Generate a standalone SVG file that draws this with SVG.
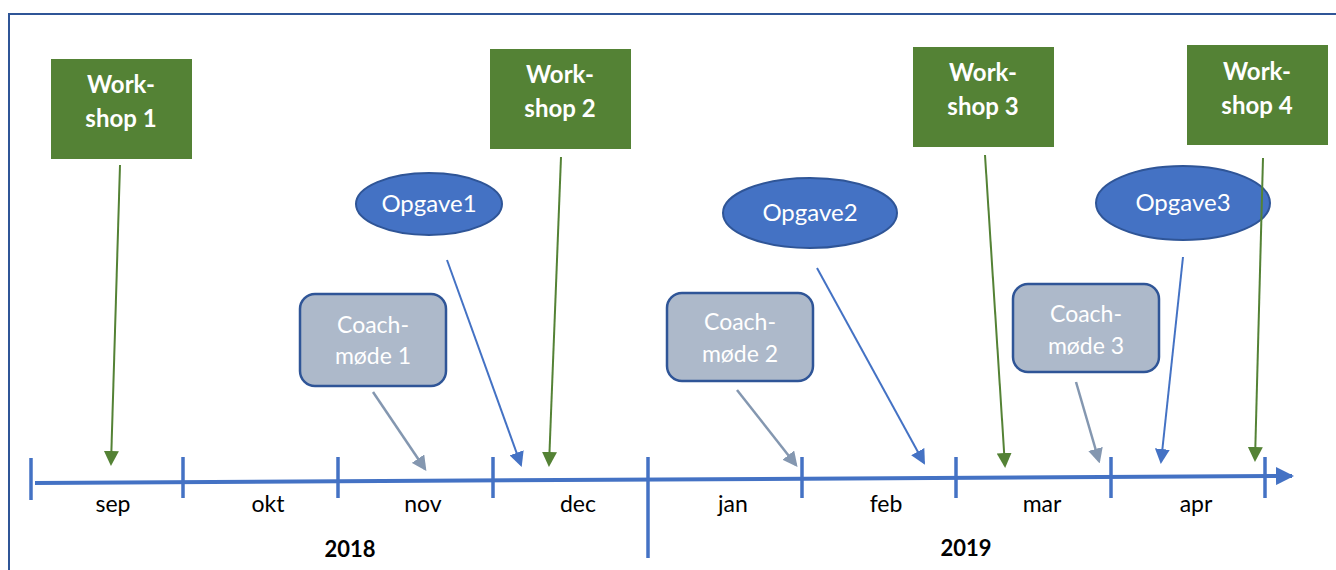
<svg xmlns="http://www.w3.org/2000/svg" width="1336" height="570" viewBox="0 0 1336 570">
<style>
.ws{fill:#548235}
.wt{font-family:Lato,"Liberation Sans",sans-serif;font-weight:bold;font-size:24px;fill:#fff;text-anchor:middle}
.op{fill:#4472C4;stroke:#2F5597;stroke-width:2}
.ot{font-family:Lato,"Liberation Sans",sans-serif;font-size:24px;fill:#fff;text-anchor:middle}
.co{fill:#ADB9CA;stroke:#2F5597;stroke-width:2.5}
.ct{font-family:Lato,"Liberation Sans",sans-serif;font-size:23px;fill:#fff;text-anchor:middle}
.mt{font-family:Lato,"Liberation Sans",sans-serif;font-size:23px;fill:#000;text-anchor:middle}
.yt{font-family:Lato,"Liberation Sans",sans-serif;font-size:22px;font-weight:bold;fill:#000;text-anchor:middle}
.g{stroke:#548235;stroke-width:2;fill:none}
.b{stroke:#4472C4;stroke-width:2;fill:none}
.c{stroke:#8497B0;stroke-width:2.5;fill:none}
.tick{stroke:#4472C4;stroke-width:3.5}
</style>
<defs>
<marker id="ag" markerWidth="7.5" markerHeight="7.5" refX="6.5" refY="3.75" orient="auto" markerUnits="strokeWidth"><path d="M0,0 L7.5,3.75 L0,7.5 Z" fill="#548235"/></marker>
<marker id="ab" markerWidth="7.5" markerHeight="7.5" refX="6.5" refY="3.75" orient="auto" markerUnits="strokeWidth"><path d="M0,0 L7.5,3.75 L0,7.5 Z" fill="#4472C4"/></marker>
<marker id="ac" markerWidth="6" markerHeight="6" refX="5" refY="3" orient="auto" markerUnits="strokeWidth"><path d="M0,0 L6,3 L0,6 Z" fill="#8497B0"/></marker>
<marker id="at" markerWidth="4.5" markerHeight="4.5" refX="4" refY="2.25" orient="auto" markerUnits="strokeWidth"><path d="M0,0 L4.5,2.25 L0,4.5 Z" fill="#4472C4"/></marker>
</defs>
<rect width="1336" height="570" fill="#fff"/>
<path d="M9,575 L9,14 L1340,14" fill="none" stroke="#2F5597" stroke-width="2"/>

<g id="timeline">
<line x1="35" y1="483" x2="1292" y2="476" stroke="#4472C4" stroke-width="4" marker-end="url(#at)"/>
<line class="tick" x1="31" y1="458" x2="31" y2="500"/>
<line class="tick" x1="183" y1="457" x2="183" y2="498"/>
<line class="tick" x1="338" y1="457" x2="338" y2="498"/>
<line class="tick" x1="493" y1="457" x2="493" y2="498"/>
<line class="tick" x1="648" y1="457" x2="648" y2="558"/>
<line class="tick" x1="802" y1="457" x2="802" y2="498"/>
<line class="tick" x1="956" y1="457" x2="956" y2="498"/>
<line class="tick" x1="1111" y1="457" x2="1111" y2="498"/>
<line class="tick" x1="1265" y1="457" x2="1265" y2="498"/>
<text class="mt" x="113" y="512">sep</text>
<text class="mt" x="268" y="512">okt</text>
<text class="mt" x="423" y="512">nov</text>
<text class="mt" x="578" y="512">dec</text>
<text class="mt" x="733" y="512">jan</text>
<text class="mt" x="886" y="512">feb</text>
<text class="mt" x="1042" y="512">mar</text>
<text class="mt" x="1196" y="512">apr</text>
<text class="yt" x="350" y="557">2018</text>
<text class="yt" x="966" y="556">2019</text>
</g>

<g id="workshop1"><rect class="ws" x="51" y="59" width="141" height="100"/><text class="wt" x="121" y="93">Work-</text><text class="wt" x="121" y="127">shop 1</text></g>
<g id="workshop2"><rect class="ws" x="490" y="49" width="141" height="100"/><text class="wt" x="560" y="83">Work-</text><text class="wt" x="560" y="117">shop 2</text></g>
<g id="workshop3"><rect class="ws" x="913" y="47" width="141" height="100"/><text class="wt" x="983" y="81">Work-</text><text class="wt" x="983" y="115">shop 3</text></g>
<g id="workshop4"><rect class="ws" x="1187" y="45" width="141" height="100"/><text class="wt" x="1257" y="80">Work-</text><text class="wt" x="1257" y="114">shop 4</text></g>

<g id="opgave1"><ellipse class="op" cx="429" cy="204" rx="73" ry="31"/><text class="ot" x="429" y="212">Opgave1</text></g>
<g id="opgave2"><ellipse class="op" cx="810" cy="213" rx="87" ry="35"/><text class="ot" x="810" y="221">Opgave2</text></g>
<g id="opgave3"><ellipse class="op" cx="1183" cy="203" rx="87" ry="37"/><text class="ot" x="1183" y="211">Opgave3</text></g>

<g id="coach1"><rect class="co" x="300" y="294" width="146" height="92" rx="15"/><text class="ct" x="373" y="333">Coach-</text><text class="ct" x="373" y="364">møde 1</text></g>
<g id="coach2"><rect class="co" x="667" y="293" width="146" height="88" rx="15"/><text class="ct" x="740" y="330">Coach-</text><text class="ct" x="740" y="362">møde 2</text></g>
<g id="coach3"><rect class="co" x="1013" y="284" width="146" height="88" rx="15"/><text class="ct" x="1086" y="322">Coach-</text><text class="ct" x="1086" y="354">møde 3</text></g>

<g id="connectors">
<line class="g" x1="120" y1="165" x2="111" y2="464" marker-end="url(#ag)"/>
<line class="g" x1="561" y1="157" x2="549" y2="465" marker-end="url(#ag)"/>
<line class="g" x1="985" y1="155" x2="1005" y2="466" marker-end="url(#ag)"/>
<line class="g" x1="1263" y1="158" x2="1255" y2="460" marker-end="url(#ag)"/>
<line class="b" x1="447" y1="260" x2="521" y2="465" marker-end="url(#ab)"/>
<line class="b" x1="817" y1="268" x2="924" y2="463" marker-end="url(#ab)"/>
<line class="b" x1="1183" y1="257" x2="1161" y2="462" marker-end="url(#ab)"/>
<line class="c" x1="373" y1="392" x2="425" y2="469" marker-end="url(#ac)"/>
<line class="c" x1="737" y1="390" x2="796" y2="465" marker-end="url(#ac)"/>
<line class="c" x1="1076" y1="382" x2="1099" y2="461" marker-end="url(#ac)"/>
</g>
</svg>
